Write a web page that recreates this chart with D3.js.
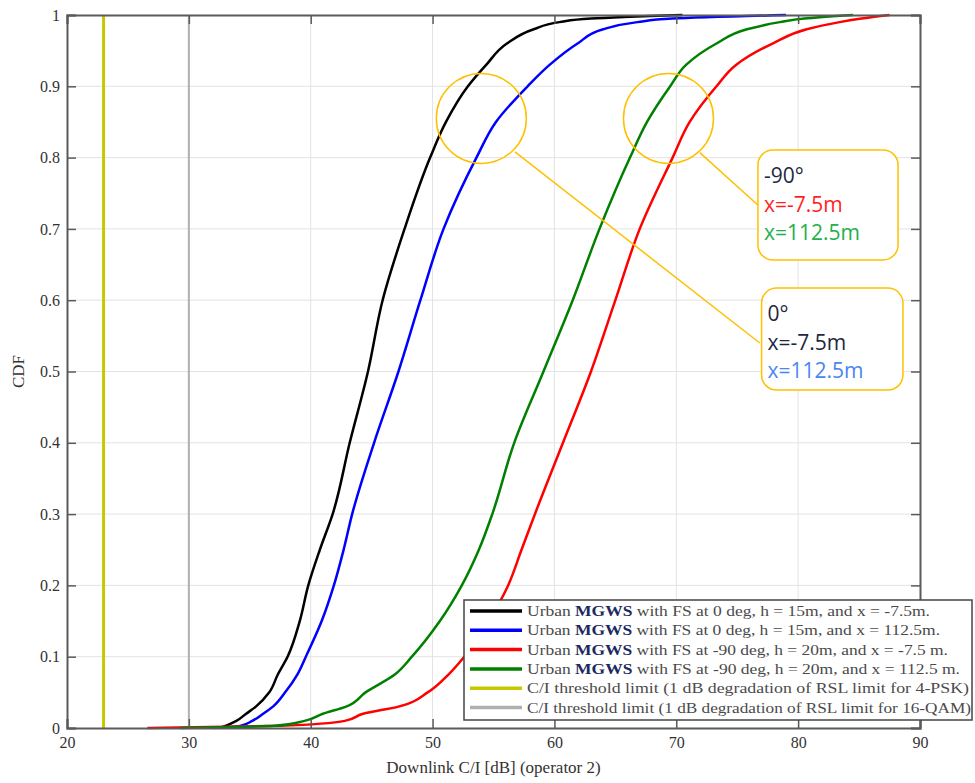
<!DOCTYPE html>
<html>
<head>
<meta charset="utf-8">
<script src="https://cdn.jsdelivr.net/npm/d3@7"></script>
<style>
  html, body { margin: 0; padding: 0; background: #fff; }
  svg { display: block; }
</style>
</head>
<body>
<svg id="chart" width="975" height="783"></svg>
<script>
// ---------------- data ----------------
const cdfLevels = [0, 0.003, 0.01, 0.02, 0.03, 0.05, 0.075, 0.1, 0.15, 0.2, 0.25, 0.3, 0.4, 0.5, 0.6, 0.7, 0.8, 0.85, 0.9, 0.93, 0.96, 0.98, 0.99, 0.995, 1];

const ciBlack = [32.4, 33.0, 33.9, 34.7, 35.5, 36.6, 37.3, 38.1, 39.1, 39.8, 40.75, 41.8, 43.2, 44.7, 45.9, 47.7, 49.8, 51.1, 52.9, 54.4, 56.1, 58.3, 60.4, 63.0, 70.5];
const ciBlue  = [32.0, 34.2, 35.2, 36.1, 36.9, 37.9, 38.9, 39.6, 40.9, 41.9, 42.7, 43.4, 45.2, 47.2, 49.0, 50.9, 53.6, 55.2, 57.8, 59.6, 61.9, 64.0, 66.8, 69.7, 79.0];
const ciRed   = [26.6, 37.5, 42.8, 44.3, 47.2, 49.6, 51.3, 52.6, 54.6, 56.2, 57.3, 58.4, 60.7, 63.0, 65.0, 67.0, 69.7, 71.1, 73.3, 74.9, 77.9, 80.7, 83.4, 85.2, 87.5];
const ciGreen = [29.3, 37.0, 39.5, 41.0, 42.9, 44.5, 46.9, 48.3, 50.6, 52.4, 53.8, 54.9, 56.7, 59.1, 61.5, 63.7, 66.2, 67.6, 69.5, 70.8, 73.3, 75.8, 78.5, 80.5, 84.5];

const thresholdQPSK = 23;
const threshold16QAM = 30;

const seriesNames = [
  "with FS at 0 deg, h = 15m, and x = -7.5m.",
  "with FS at 0 deg, h = 15m, and x = 112.5m.",
  "with FS at -90 deg, h = 20m, and x = -7.5 m.",
  "with FS at -90 deg, h = 20m, and x = 112.5 m."
];
const thresholdNames = [
  "C/I threshold limit (1 dB degradation of RSL limit for 4-PSK)",
  "C/I threshold limit (1 dB degradation of RSL limit for 16-QAM)"
];

const xTicks = [20, 30, 40, 50, 60, 70, 80, 90];
const xTickLabels = ["20", "30", "40", "50", "60", "70", "80", "90"];
const yTicks = [0, 0.1, 0.2, 0.3, 0.4, 0.5, 0.6, 0.7, 0.8, 0.9, 1];
const yTickLabels = ["0", "0.1", "0.2", "0.3", "0.4", "0.5", "0.6", "0.7", "0.8", "0.9", "1"];

// annotation anchors (data coordinates)
const circleCenters = [[54.0, 0.855], [69.36, 0.855]];
const calloutLines = [
  [[56.76, 0.808], [76.85, 0.540]],
  [[71.93, 0.807], [76.69, 0.7335]]
];
const calloutBoxes = [
  { x0: 76.7, y0: 0.8107, x1: 88.2, y1: 0.6564, lines: [["-90°", "#1f2740"], ["x=-7.5m", "#ff1f1f"], ["x=112.5m", "#22b04b"]] },
  { x0: 77.0, y0: 0.617, x1: 88.6, y1: 0.474, lines: [["0°", "#1f2740"], ["x=-7.5m", "#1f2740"], ["x=112.5m", "#4a86f0"]] }
];

// ---------------- drawing ----------------
const svg = d3.select("#chart");
const x = d3.scaleLinear().domain([20, 90]).range([67, 920]);
const y = d3.scaleLinear().domain([0, 1]).range([728, 15]);
const serif = "'Liberation Serif', 'DejaVu Serif', serif";
const sans = "'Open Sans', 'Noto Sans', sans-serif";

// grid
const grid = svg.append("g");
grid.selectAll("line.gx").data(xTicks.slice(1, -1)).join("line")
  .attr("x1", d => x(d)).attr("x2", d => x(d)).attr("y1", y(0)).attr("y2", y(1))
  .attr("stroke", "#e3e3e3").attr("stroke-width", 1);
grid.selectAll("line.gy").data(yTicks.slice(1, -1)).join("line")
  .attr("y1", d => y(d)).attr("y2", d => y(d)).attr("x1", x(20)).attr("x2", x(90))
  .attr("stroke", "#e3e3e3").attr("stroke-width", 1);

// threshold lines
svg.append("line").attr("x1", x(thresholdQPSK)).attr("x2", x(thresholdQPSK))
  .attr("y1", y(0)).attr("y2", y(1)).attr("stroke", "#c8c800").attr("stroke-width", 3);
svg.append("line").attr("x1", x(threshold16QAM)).attr("x2", x(threshold16QAM))
  .attr("y1", y(0)).attr("y2", y(1)).attr("stroke", "#b0b0b0").attr("stroke-width", 2);

// curves
const series = [
  { vals: ciBlack, color: "#000000" },
  { vals: ciBlue, color: "#0000ff" },
  { vals: ciRed, color: "#ff0000" },
  { vals: ciGreen, color: "#008000" }
];
const line = d3.line().x(d => x(d[0])).y(d => y(d[1])).curve(d3.curveMonotoneY);
series.forEach(s => {
  svg.append("path")
    .datum(s.vals.map((v, i) => [v, cdfLevels[i]]))
    .attr("fill", "none").attr("stroke", s.color).attr("stroke-width", 2.5)
    .attr("stroke-linejoin", "round")
    .attr("d", line);
});

// axes (MATLAB style box with inward ticks)
const axColor = "#5a5a5a";
const gB = svg.append("g").attr("transform", `translate(0,${y(0)})`)
  .call(d3.axisBottom(x).tickValues(xTicks).tickFormat((d, i) => xTickLabels[i]).tickSize(-9).tickPadding(9));
const gL = svg.append("g").attr("transform", `translate(${x(20)},0)`)
  .call(d3.axisLeft(y).tickValues(yTicks).tickFormat((d, i) => yTickLabels[i]).tickSize(-9).tickPadding(7));
const gT = svg.append("g").attr("transform", `translate(0,${y(1)})`)
  .call(d3.axisTop(x).tickValues(xTicks).tickFormat("").tickSize(-9));
const gR = svg.append("g").attr("transform", `translate(${x(90)},0)`)
  .call(d3.axisRight(y).tickValues(yTicks).tickFormat("").tickSize(-9));
[gB, gL, gT, gR].forEach(g => {
  g.select(".domain").attr("stroke", axColor).attr("stroke-width", 2);
  g.selectAll(".tick line").attr("stroke", axColor).attr("stroke-width", 1.5);
  g.selectAll(".tick text").attr("fill", "#333").style("font-family", serif).style("font-size", "16px");
});

// axis labels
svg.append("text").attr("x", (x(20) + x(90)) / 2).attr("y", 773)
  .attr("text-anchor", "middle").attr("fill", "#333")
  .style("font-family", serif).style("font-size", "17px")
  .text("Downlink C/I [dB] (operator 2)");
svg.append("text").attr("transform", `translate(24,${(y(0) + y(1)) / 2}) rotate(-90)`)
  .attr("text-anchor", "middle").attr("fill", "#333")
  .style("font-family", serif).style("font-size", "17px")
  .text("CDF");

// legend
const lg = svg.append("g");
lg.append("rect").attr("x", 464).attr("y", 600).attr("width", 508).attr("height", 120)
  .attr("fill", "#fff").attr("stroke", "#444").attr("stroke-width", 1.5);
const legendItems = [
  { color: "#000000", name: seriesNames[0], mg: true, len: 403 },
  { color: "#0000ff", name: seriesNames[1], mg: true, len: 413 },
  { color: "#ff0000", name: seriesNames[2], mg: true, len: 421 },
  { color: "#008000", name: seriesNames[3], mg: true, len: 433 },
  { color: "#c8c800", name: thresholdNames[0], mg: false, len: 442 },
  { color: "#b0b0b0", name: thresholdNames[1], mg: false, len: 444 }
];
legendItems.forEach((it, i) => {
  const cy = 611 + i * 19.3;
  lg.append("line").attr("x1", 470).attr("x2", 522).attr("y1", cy).attr("y2", cy)
    .attr("stroke", it.color).attr("stroke-width", 3.5);
  const t = lg.append("text").attr("x", 527).attr("y", cy + 5)
    .attr("fill", "#4a4a4a").style("font-family", serif).style("font-size", "14.5px")
    .attr("textLength", it.len).attr("lengthAdjust", "spacingAndGlyphs");
  if (it.mg) {
    t.append("tspan").text("Urban ");
    t.append("tspan").attr("fill", "#1c2a5e").style("font-weight", "bold").text("MGWS");
    t.append("tspan").text(" " + it.name);
  } else {
    t.text(it.name);
  }
});

// annotations
const gold = "#ffc000";
circleCenters.forEach(c => {
  svg.append("circle").attr("cx", x(c[0])).attr("cy", y(c[1])).attr("r", 45)
    .attr("fill", "none").attr("stroke", gold).attr("stroke-width", 1.5);
});
calloutLines.forEach(l => {
  svg.append("line").attr("x1", x(l[0][0])).attr("y1", y(l[0][1]))
    .attr("x2", x(l[1][0])).attr("y2", y(l[1][1]))
    .attr("stroke", gold).attr("stroke-width", 1.5);
});
calloutBoxes.forEach(b => {
  const bx = x(b.x0), by = y(b.y0);
  svg.append("rect").attr("x", bx).attr("y", by)
    .attr("width", x(b.x1) - x(b.x0)).attr("height", y(b.y1) - y(b.y0))
    .attr("rx", 15).attr("ry", 15)
    .attr("fill", "#fff").attr("stroke", gold).attr("stroke-width", 1.5);
  b.lines.forEach((ln, i) => {
    svg.append("text").attr("x", bx + 6).attr("y", by + 33 + i * 28.7)
      .attr("fill", ln[1]).style("font-family", sans).style("font-size", "21px")
      .text(ln[0]);
  });
});
</script>
</body>
</html>
